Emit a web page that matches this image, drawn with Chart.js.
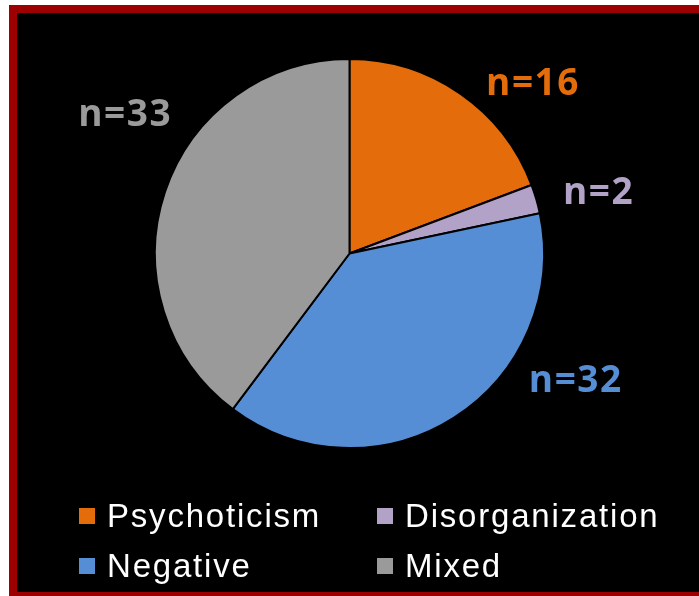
<!doctype html>
<html lang="en">
<head>
  <meta charset="utf-8" />
  <title>Symptom dimensions</title>
  <script src="https://cdn.jsdelivr.net/npm/chart.js"></script>
  <style>
    html, body { margin: 0; padding: 0; background: #fff; overflow: hidden; }
    .frame {
      position: absolute; left: 9px; top: 5px;
      width: 720px; height: 579px;
      border: 8px solid #9c0000; background: #000;
    }
    .wrap { position: absolute; left: 0; top: 0; width: 699px; height: 596px; }
  </style>
</head>
<body>
  <div class="frame"></div>
  <div class="wrap">
    <canvas id="pieChart"></canvas>
  </div>

<script>
  // data
  const categories = ['Psychoticism', 'Disorganization', 'Negative', 'Mixed'];
  const counts = [16, 2, 32, 33];
  const sliceColors = ['#e46c0a', '#b3a2c7', '#558ed5', '#9a9a9a'];

  // where the "n=" labels sit: angle from 12 o'clock (deg), distance in radii
  const labelPlace = [[47, 1.29], [76, 1.32], [119, 1.33], [302, 1.36]];

  // labels + legend drawn by hand
  const extras = {
    id: 'extras',
    afterDraw(chart) {
      const ctx = chart.ctx;
      const meta = chart.getDatasetMeta(0);
      const arc = meta.data[0];
      const cx = arc.x, cy = arc.y, r = arc.outerRadius;

      ctx.save();
      ctx.font = 'bold 37px "Open Sans"';
      ctx.letterSpacing = '1.5px';
      ctx.textAlign = 'center';
      ctx.textBaseline = 'alphabetic';
      counts.forEach((v, i) => {
        const a = labelPlace[i][0] * Math.PI / 180;
        const d = labelPlace[i][1] * r;
        ctx.fillStyle = sliceColors[i];
        ctx.fillText('n=' + v, cx + d * Math.sin(a), cy - d * Math.cos(a) + 13);
      });

      // legend, 2 columns
      ctx.font = '33px "Liberation Sans", Arial, sans-serif';
      ctx.letterSpacing = '1.8px';
      ctx.textAlign = 'left';
      const colX = [79, 377];
      const rowY = [527, 577];
      categories.forEach((c, i) => {
        const x = colX[i % 2], y = rowY[Math.floor(i / 2)];
        ctx.fillStyle = sliceColors[i];
        ctx.fillRect(x, y - 19, 16, 16);
        ctx.fillStyle = '#fff';
        ctx.fillText(c, x + 28, y);
      });
      ctx.restore();
    }
  };

  new Chart(document.getElementById('pieChart'), {
    type: 'pie',
    data: {
      labels: categories,
      datasets: [{
        data: counts,
        backgroundColor: sliceColors,
        borderColor: '#000',
        borderWidth: 2
      }]
    },
    options: {
      responsive: true,
      maintainAspectRatio: false,
      animation: false,
      layout: { padding: { left: 154, right: 154, top: 58, bottom: 147 } },
      plugins: {
        legend: { display: false },
        tooltip: { enabled: false }
      }
    },
    plugins: [extras]
  });
</script>
</body>
</html>
